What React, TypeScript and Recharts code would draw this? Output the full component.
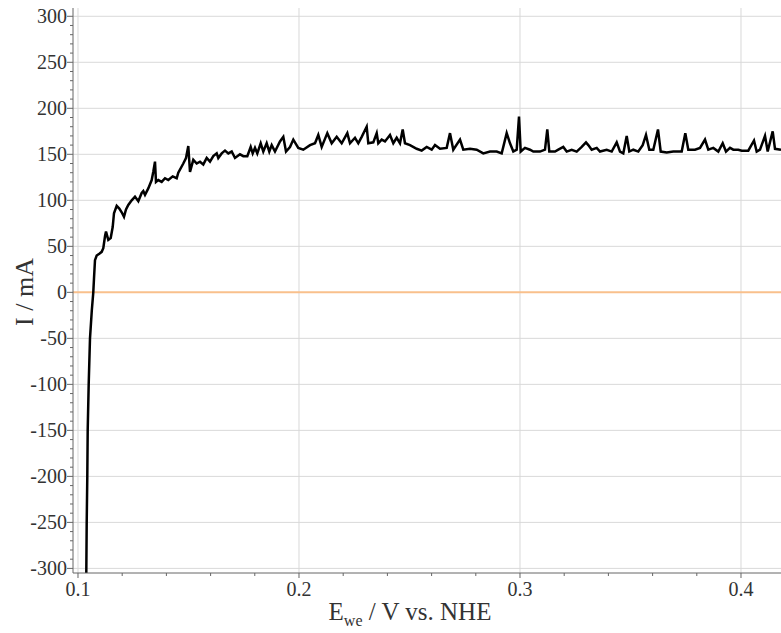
import { LineChart, Line, XAxis, YAxis, ReferenceLine, Label } from 'recharts'

const potential = [
  0.10376, 0.10394, 0.10421, 0.10439, 0.10484, 0.10543, 0.10624, 0.10692, 0.10724, 0.10769,
  0.10846, 0.10964, 0.11072, 0.11145, 0.11222, 0.11267, 0.11371, 0.1148, 0.1157, 0.11629,
  0.11751, 0.11869, 0.11977, 0.12081, 0.12172, 0.12276, 0.1243, 0.12579, 0.12729, 0.12882,
  0.12955, 0.13032, 0.13181, 0.13335, 0.13407, 0.13484, 0.13529, 0.13633, 0.13787, 0.13937,
  0.14086, 0.14285, 0.14466, 0.14538, 0.14765, 0.14887, 0.14991, 0.15068, 0.15217, 0.15371,
  0.1552, 0.1567, 0.15824, 0.15973, 0.16122, 0.16276, 0.16348, 0.16502, 0.16652, 0.16801,
  0.16955, 0.17104, 0.1733, 0.1748, 0.17661, 0.17814, 0.17905, 0.18009, 0.18113, 0.18267,
  0.18385, 0.18538, 0.18656, 0.18765, 0.18914, 0.1914, 0.1929, 0.19412, 0.19593, 0.19742,
  0.19968, 0.20195, 0.20498, 0.20724, 0.20873, 0.21027, 0.21281, 0.2148, 0.21706, 0.21932,
  0.22186, 0.22308, 0.22534, 0.22683, 0.22837, 0.23063, 0.23136, 0.23362, 0.23516, 0.23588,
  0.23742, 0.23891, 0.24118, 0.24267, 0.24421, 0.2457, 0.24692, 0.24796, 0.25023, 0.25326,
  0.25552, 0.25778, 0.26005, 0.26154, 0.2638, 0.26683, 0.26833, 0.26982, 0.27285, 0.27434,
  0.27738, 0.28041, 0.28339, 0.28643, 0.28946, 0.29172, 0.29398, 0.29548, 0.29697, 0.29851,
  0.29955, 0.30032, 0.30226, 0.30452, 0.30602, 0.30905, 0.31131, 0.31235, 0.31326, 0.31584,
  0.31733, 0.31959, 0.32113, 0.32339, 0.32566, 0.32792, 0.32986, 0.3309, 0.33244, 0.33471,
  0.3362, 0.33923, 0.34149, 0.34376, 0.34525, 0.34674, 0.34828, 0.34946, 0.35127, 0.35353,
  0.35552, 0.35701, 0.35851, 0.36032, 0.36244, 0.36367, 0.36638, 0.36937, 0.37317, 0.3748,
  0.37615, 0.37919, 0.38145, 0.38371, 0.3852, 0.38747, 0.38973, 0.39172, 0.39321, 0.39502,
  0.39652, 0.39878, 0.40032, 0.4033, 0.40588, 0.4071, 0.4086, 0.41086, 0.41208, 0.41434,
  0.41538, 0.4181,
]

const current = [
  -305, -250, -200, -150, -100, -50, -20, 0, 15, 35,
  40, 42, 44, 48, 61, 66, 57, 59, 71, 86,
  94, 91, 87, 82, 90, 95, 100, 104, 99, 108,
  110, 106, 113, 122, 131, 142, 120, 122, 120, 124,
  122, 126, 124, 130, 140, 146, 159, 131, 144, 140,
  142, 139, 146, 142, 148, 151, 146, 151, 154, 151,
  153, 146, 150, 148, 148, 158, 151, 157, 151, 162,
  153, 162, 153, 160, 153, 164, 169, 153, 158, 166,
  157, 155, 160, 162, 171, 158, 173, 162, 169, 162,
  173, 162, 168, 162, 169, 180, 162, 163, 173, 162,
  166, 164, 171, 162, 168, 162, 177, 162, 160, 156,
  154, 158, 155, 160, 156, 157, 173, 155, 166, 155,
  156, 155, 151, 153, 153, 151, 173, 162, 153, 155,
  191, 153, 157, 155, 153, 153, 155, 177, 153, 153,
  155, 158, 153, 155, 153, 158, 163, 160, 155, 157,
  153, 155, 153, 163, 153, 151, 170, 153, 155, 153,
  160, 171, 155, 155, 177, 153, 152, 153, 153, 173,
  155, 155, 157, 166, 155, 157, 153, 162, 153, 157,
  155, 155, 154, 154, 165, 153, 155, 170, 153, 175,
  156, 155,
]

const xMajor = [0.1, 0.2, 0.3, 0.4]
const xTicks = [
  0.1, 0.12, 0.14, 0.16, 0.18, 0.2, 0.22, 0.24, 0.26, 0.28,
  0.3, 0.32, 0.34, 0.36, 0.38, 0.4,
]
const yMajor = [-300, -250, -200, -150, -100, -50, 0, 50, 100, 150, 200, 250, 300]
// minor ticks every 10 mA
const yTicks = yMajor.flatMap((v) => (v < 300 ? [v, v + 10, v + 20, v + 30, v + 40] : [v]))

const data = potential.map((e, k) => ({ e, i: current[k] }))

const FONT = "'Liberation Serif', 'Times New Roman', serif"
const AXIS = '#666'
const TEXT = '#333'
const GRID = '#d9d9d9'

const isXMajor = (v: number) => xMajor.some((m) => Math.abs(m - v) < 1e-6)

function XTick(props: any) {
  const { x, y, payload } = props
  const major = isXMajor(payload.value)
  return (
    <g>
      <line x1={x} x2={x} y1={y} y2={y + (major ? 5 : 3)} stroke={AXIS} />
      {major && (
        <text x={x} y={y + 23} textAnchor="middle" style={{ fontFamily: FONT, fontSize: 20 }} fill={TEXT}>
          {payload.value.toFixed(1)}
        </text>
      )}
    </g>
  )
}

function YTick(props: any) {
  const { x, y, payload } = props
  const major = payload.value % 50 === 0
  return (
    <g>
      <line x1={x - (major ? 6 : 3)} x2={x} y1={y} y2={y} stroke={AXIS} />
      {major && (
        <text x={x - 6} y={y + 7} textAnchor="end" style={{ fontFamily: FONT, fontSize: 20 }} fill={TEXT}>
          {payload.value}
        </text>
      )}
    </g>
  )
}

function XTitle() {
  return (
    <text x={410} y={620} textAnchor="middle" style={{ fontFamily: FONT, fontSize: 25 }} fill={TEXT}>
      E
      <tspan style={{ fontSize: 16 }} dy={6}>we</tspan>
      <tspan dy={-6}> / V vs. NHE</tspan>
    </text>
  )
}

function YTitle() {
  return (
    <text
      x={0}
      y={0}
      transform="translate(33, 292) rotate(-90)"
      textAnchor="middle"
      style={{ fontFamily: FONT, fontSize: 26 }}
      fill={TEXT}
    >
      I / mA
    </text>
  )
}

export default function App() {
  return (
    <div style={{ width: 781, height: 633 }}>
      <style>{'body{margin:0}'}</style>
      <LineChart width={781} height={633} data={data} margin={{ top: 8, right: 0, bottom: 0, left: 0 }}>
        <XAxis
          dataKey="e"
          type="number"
          domain={[0.09774, 0.4181]}
          allowDataOverflow
          ticks={xTicks}
          interval={0}
          tick={<XTick />}
          tickLine={false}
          tickSize={0}
          tickMargin={0}
          height={60}
          axisLine={{ stroke: AXIS }}
        >
          <Label content={<XTitle />} />
        </XAxis>
        <YAxis
          type="number"
          domain={[-305, 309]}
          allowDataOverflow
          ticks={yTicks}
          interval={0}
          tick={<YTick />}
          tickLine={false}
          tickSize={0}
          tickMargin={0}
          width={73}
          axisLine={{ stroke: AXIS }}
        >
          <Label content={<YTitle />} />
        </YAxis>
        {yMajor
          .filter((v) => v !== 0)
          .map((v) => (
            <ReferenceLine key={'h' + v} y={v} stroke={GRID} />
          ))}
        {xMajor.map((v) => (
          <ReferenceLine key={'v' + v} x={v} stroke={GRID} />
        ))}
        <ReferenceLine y={0} stroke="#f9c08c" strokeWidth={2} />
        <Line
          dataKey="i"
          type="linear"
          stroke="#000"
          strokeWidth={2.5}
          dot={false}
          isAnimationActive={false}
        />
      </LineChart>
    </div>
  )
}
